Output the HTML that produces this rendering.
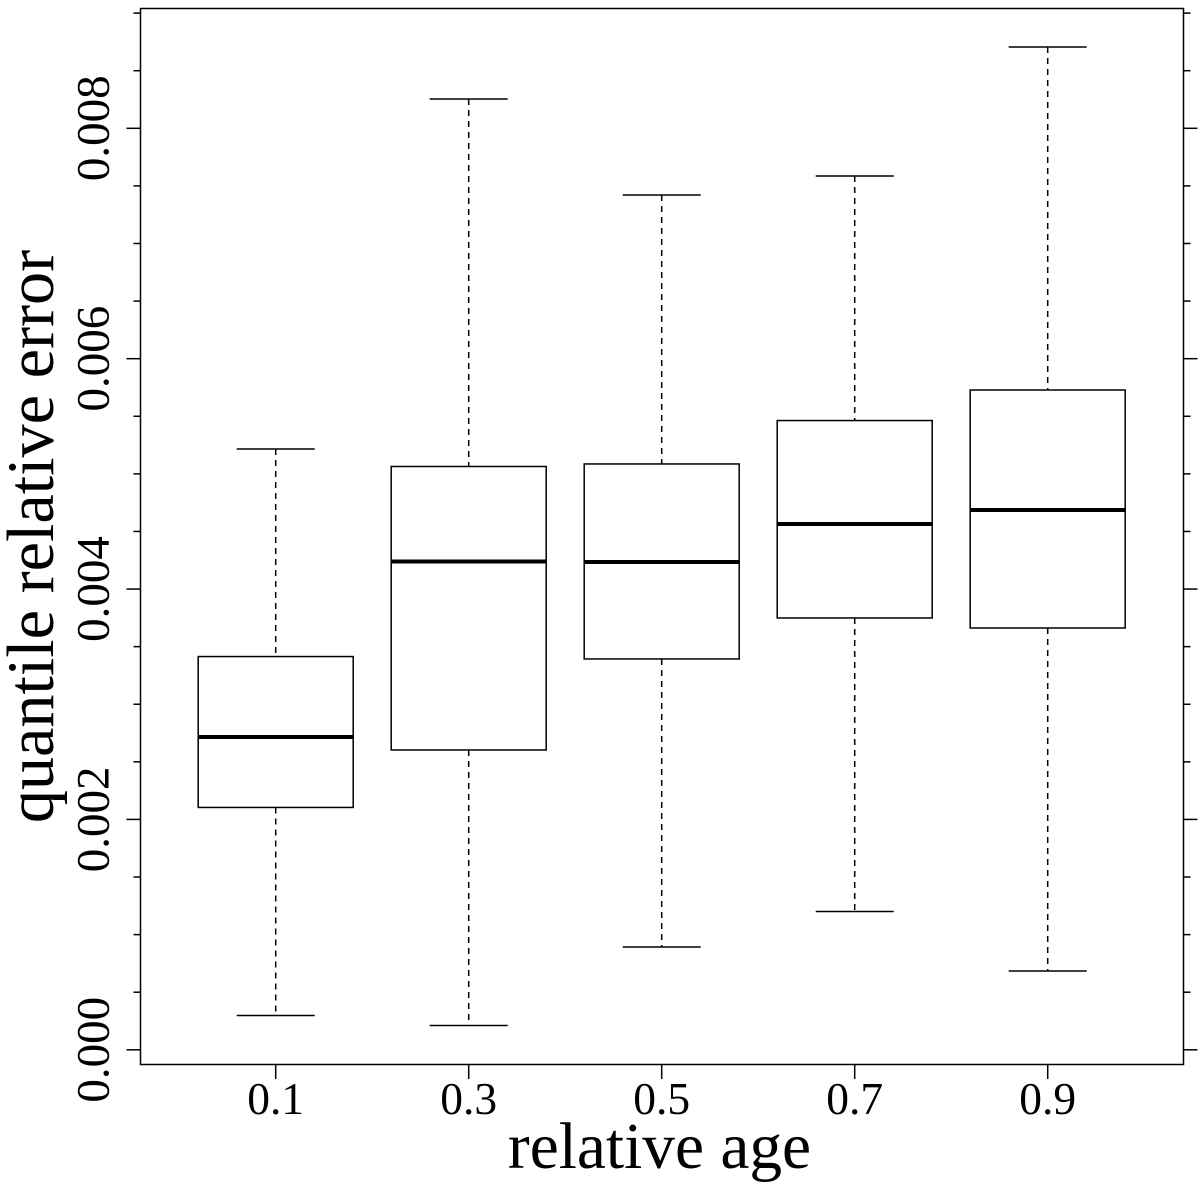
<!DOCTYPE html>
<html>
<head>
<meta charset="utf-8">
<title>Quantile relative error by relative age</title>
<style>
  html, body { margin: 0; padding: 0; background: #fff; }
  svg { display: block; }
  text { font-family: "Liberation Serif", serif; fill: #000; }
</style>
</head>
<body>
<svg id="chart" width="1200" height="1184" viewBox="0 0 1200 1184" xmlns="http://www.w3.org/2000/svg">
  <rect x="0" y="0" width="1200" height="1184" fill="#fff"/>
  <g id="boxes"></g>
  <rect x="140.5" y="8.5" width="1043" height="1056" fill="none" stroke="#000" stroke-width="1.5"/>
  <g id="axes"></g>
  <text x="659.5" y="1168" font-size="65.4" text-anchor="middle">relative age</text>
  <text transform="translate(53 536.5) rotate(-90)" font-size="66.2" text-anchor="middle">quantile relative error</text>
</svg>
<script>
const categories = ['0.1', '0.3', '0.5', '0.7', '0.9'];
const whiskerHigh = [0.005216, 0.008254, 0.007421, 0.007586, 0.008706];
const q3 = [0.003414, 0.005064, 0.005086, 0.005463, 0.005728];
const medians = [0.002716, 0.004239, 0.004235, 0.004565, 0.004686];
const q1 = [0.002104, 0.002603, 0.003393, 0.003749, 0.003662];
const whiskerLow = [0.000298, 0.000211, 0.000892, 0.001201, 0.000684];
const yLabelValues = [0, 0.002, 0.004, 0.006, 0.008];
const yLabels = ['0.000', '0.002', '0.004', '0.006', '0.008'];
const yMinorValues = [0.0005, 0.001, 0.0015, 0.0025, 0.003, 0.0035, 0.0045, 0.005, 0.0055, 0.0065, 0.007, 0.0075, 0.0085, 0.009];

const NS = 'http://www.w3.org/2000/svg';
const boxesGroup = document.getElementById('boxes');
const axesGroup = document.getElementById('axes');

function yScale(v) { return 1049.8 - v * 115187; }
function xScale(i) { return 275.7 + i * 193; }

function makeLine(parent, x1, y1, x2, y2, width, dash) {
  const l = document.createElementNS(NS, 'line');
  l.setAttribute('x1', x1);
  l.setAttribute('y1', y1);
  l.setAttribute('x2', x2);
  l.setAttribute('y2', y2);
  l.setAttribute('stroke', '#000');
  l.setAttribute('stroke-width', width);
  if (dash) l.setAttribute('stroke-dasharray', dash);
  parent.appendChild(l);
  return l;
}

const boxHalf = 77.5;
const capHalf = 39;

categories.forEach(function (cat, i) {
  const cx = xScale(i);
  const g = document.createElementNS(NS, 'g');
  
  
  boxesGroup.appendChild(g);

  const upper = makeLine(g, cx, yScale(whiskerHigh[i]), cx, yScale(q3[i]), 1.5, '6 5');
  
  

  const lower = makeLine(g, cx, yScale(q1[i]), cx, yScale(whiskerLow[i]), 1.5, '6 5');
  
  

  const capTop = makeLine(g, cx - capHalf, yScale(whiskerHigh[i]), cx + capHalf, yScale(whiskerHigh[i]), 1.5);
  
  

  const capBottom = makeLine(g, cx - capHalf, yScale(whiskerLow[i]), cx + capHalf, yScale(whiskerLow[i]), 1.5);
  
  

  const rect = document.createElementNS(NS, 'rect');
  rect.setAttribute('x', cx - boxHalf);
  rect.setAttribute('y', yScale(q3[i]));
  rect.setAttribute('width', boxHalf * 2);
  rect.setAttribute('height', yScale(q1[i]) - yScale(q3[i]));
  rect.setAttribute('fill', 'none');
  rect.setAttribute('stroke', '#000');
  rect.setAttribute('stroke-width', '1.5');
  
  
  g.appendChild(rect);

  const med = makeLine(g, cx - boxHalf, yScale(medians[i]), cx + boxHalf, yScale(medians[i]), 4);
  
  

  const tick = makeLine(axesGroup, cx, 1064.5, cx, 1079, 1.5);
  
  

  const label = document.createElementNS(NS, 'text');
  label.setAttribute('x', cx);
  label.setAttribute('y', 1114);
  label.setAttribute('font-size', '45.5');
  label.setAttribute('text-anchor', 'middle');
  label.textContent = cat;
  
  
  axesGroup.appendChild(label);
});

yLabelValues.forEach(function (v, i) {
  const y = yScale(v);
  const left = makeLine(axesGroup, 126.5, y, 140.5, y, 1.5);
  
  

  const right = makeLine(axesGroup, 1183.5, y, 1197.5, y, 1.5);
  
  

  const label = document.createElementNS(NS, 'text');
  label.setAttribute('transform', 'translate(108.5 ' + y + ') rotate(-90)');
  label.setAttribute('font-size', '47');
  label.setAttribute('text-anchor', 'middle');
  label.textContent = yLabels[i];
  
  
  axesGroup.appendChild(label);
});

yMinorValues.forEach(function (v) {
  const y = yScale(v);
  const left = makeLine(axesGroup, 133.5, y, 140.5, y, 1.5);
  
  

  const right = makeLine(axesGroup, 1183.5, y, 1190.5, y, 1.5);
  
  
});
</script>
</body>
</html>
